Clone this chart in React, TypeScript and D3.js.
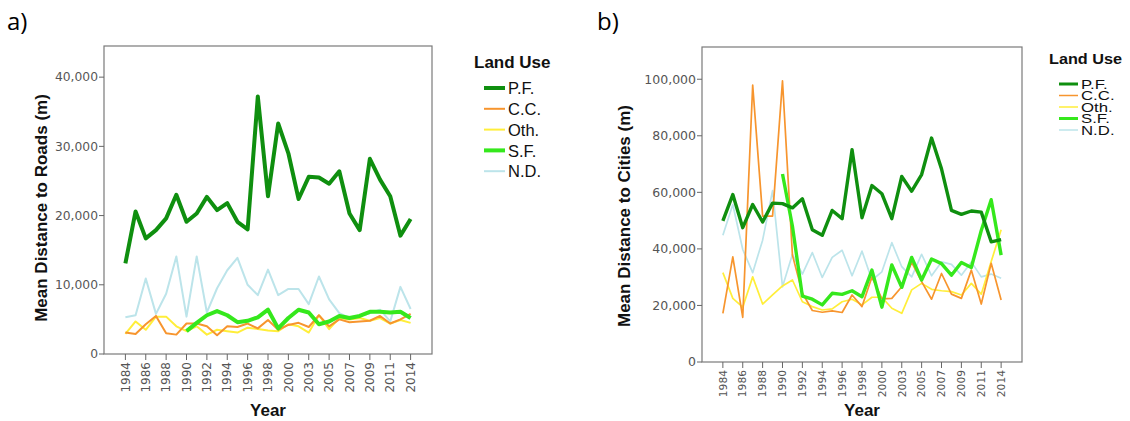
import React from "react";
import * as d3 from "d3";

// categories (survey years; 2001 and 2012 absent)
const years = [1984, 1985, 1986, 1987, 1988, 1989, 1990, 1991, 1992, 1993, 1994, 1995, 1996, 1997, 1998, 1999, 2000,
  2002, 2003, 2004, 2005, 2006, 2007, 2008, 2009, 2010, 2011, 2013, 2014];
const landUse = ["P.F.", "C.C.", "Oth.", "S.F.", "N.D."];

// a) mean distance to roads (m)
const roadsPF = [13100, 20600, 16700, 17900, 19600, 23000, 19100, 20300, 22700, 20800, 21800, 19100, 18000, 37200, 22800,
  33300, 29000, 22400, 25600, 25500, 24600, 26400, 20300, 17900, 28200, 25200, 22800, 17100, 19500];
const roadsCC = [3100, 2900, 4300, 5500, 3000, 2800, 4400, 4400, 4000, 2700, 4000, 3900, 4400, 3700, 4900, 3500, 4200,
  4500, 3900, 5600, 4000, 5000, 4600, 4700, 4800, 5500, 4400, 5000, 5800];
const roadsOth = [2900, 4700, 3500, 5400, 5400, 4000, 3300, 4000, 2800, 3500, 3300, 3100, 3800, 3600, 3400, 3300, 4300,
  4000, 3100, 5600, 3600, 5200, 5000, 5200, 4800, 5200, 4400, 4900, 4500];
const roadsSF = [null, null, null, null, null, null, 3300, 4500, 5600, 6200, 5600, 4600, 4800, 5300, 6400, 3700, 5200,
  6400, 6000, 4300, 4700, 5500, 5200, 5500, 6100, 6100, 6000, 6100, 5200];
const roadsND = [5300, 5600, 10900, 5800, 8700, 14100, 5400, 14100, 6000, 9500, 12100, 13900, 10000, 8500, 12200, 8500,
  9400, 9400, 7200, 11200, 7900, 5900, 5200, 5500, 5900, 6400, 4700, 9700, 6500];
const roadsTicks = [0, 10000, 20000, 30000, 40000];

// b) mean distance to cities (m)
const citiesPF = [49900, 59200, 47500, 55700, 49500, 56200, 56000, 54500, 57700, 46800, 44800, 53600, 50700, 75100, 51000,
  62400, 59500, 50700, 65600, 60400, 66300, 79200, 68300, 53600, 52200, 53400, 53000, 42500, 43300];
const citiesCC = [17200, 37200, 15800, 97900, 51600, 51600, 99400, 37800, 24400, 18200, 17600, 18100, 17500, 23700, 19600,
  30100, 22300, 22500, 26600, 35200, 28400, 22200, 31300, 24000, 22500, 32500, 20500, 34900, 21900];
const citiesOth = [31600, 22500, 19400, 30100, 20500, 23700, 26900, 29000, 21300, 19600, 18400, 18800, 21300, 22200, 20200,
  22900, 22900, 19000, 17200, 25500, 27800, 25700, 25200, 24900, 23700, 27800, 24000, 35500, 46800];
const citiesSF = [null, null, null, null, null, null, 66500, 48000, 23300, 22200, 20200, 24300, 23900, 25200, 23100, 32500,
  19400, 34300, 26400, 37000, 29000, 36400, 34800, 30700, 35200, 33400, 46500, 57400, 37800];
const citiesND = [44800, 55700, 39800, 31600, 43100, 60600, 26600, 38100, 31100, 38700, 29900, 37000, 39500, 30500, 39200,
  29000, 31900, 42200, 33700, 30100, 38100, 30500, 35400, 34500, 30700, 35400, 30100, 31100, 29600];
const citiesTicks = [0, 20000, 40000, 60000, 80000, 100000];

const colors: Record<string, string> = {
  "P.F.": "#0f8f0f",
  "C.C.": "#f7952e",
  "Oth.": "#ffee3a",
  "S.F.": "#35e81c",
  "N.D.": "#bce4ea",
};
const drawOrder = ["N.D.", "Oth.", "C.C.", "S.F.", "P.F."];
const thick = (k: string) => k === "P.F." || k === "S.F.";

type PanelProps = {
  series: Record<string, (number | null)[]>;
  ticks: number[];
  yMax: number;
  box: { left: number; right: number; top: number; bottom: number };
  yTitle: string;
  titleX: number;
  titleY: number;
  tickFont: number;
  xTickFont: number;
  wide: number;
  thin: number;
};

function Panel(p: PanelProps) {
  const { box } = p;
  const x = d3.scalePoint<number>().domain(years).range([box.left, box.right]).padding(2.1);
  const y = d3.scaleLinear().domain([0, p.yMax]).range([box.bottom, box.top]);
  const line = d3.line<number | null>()
    .defined(d => d !== null)
    .x((_, i) => x(years[i]) as number)
    .y(d => y(d as number));
  const fmt = d3.format(",");
  const tickFont = "DejaVu Sans, sans-serif";
  return (
    <g>
      <rect x={box.left} y={box.top} width={box.right - box.left} height={box.bottom - box.top}
        fill="none" stroke="#7a7a7a" strokeWidth={1.2} />
      {p.ticks.map(t => (
        <g key={t}>
          <line x1={box.left - 5} x2={box.left} y1={y(t)} y2={y(t)} stroke="#666" />
          <text x={box.left - 6} y={y(t)} dy="0.35em" textAnchor="end" fontFamily={tickFont}
            fontSize={p.tickFont} fill="#555">{fmt(t)}</text>
        </g>
      ))}
      {years.map((yr, i) => i % 2 === 0 ? (
        <g key={yr}>
          <line x1={x(yr)} x2={x(yr)} y1={box.bottom} y2={box.bottom + 6} stroke="#666" />
          <text transform={`translate(${x(yr)},${box.bottom + 8}) rotate(-90)`} dy="0.35em" textAnchor="end"
            fontFamily={tickFont} fontSize={p.xTickFont} fill="#555">{yr}</text>
        </g>
      ) : null)}
      {drawOrder.map(k => (
        <path key={k} d={line(p.series[k]) || ""} fill="none" stroke={colors[k]}
          strokeWidth={thick(k) ? p.wide : p.thin} strokeLinejoin="round" />
      ))}
      <text transform={`translate(${p.titleX},${p.titleY}) rotate(-90)`} textAnchor="middle"
        fontFamily="Liberation Sans, Arial, sans-serif" fontWeight="bold" fontSize={17} fill="#111">{p.yTitle}</text>
      <text x={(box.left + box.right) / 2} y={416} textAnchor="middle"
        fontFamily="Liberation Sans, Arial, sans-serif" fontWeight="bold" fontSize={17} fill="#111">Year</text>
    </g>
  );
}

function Legend(props: { x: number; y: number; gap: number; font: number; titleFont: number; sx: number; tsx: number; wide: number; thin: number; len: number }) {
  const { x, y, gap, font, titleFont, sx, len } = props;
  const ff = "Liberation Sans, Arial, sans-serif";
  return (
    <g>
      <text transform={`translate(${x - 10},${y - 20}) scale(${props.tsx},1)`} fontFamily={ff} fontWeight="bold"
        fontSize={titleFont} fill="#111">Land Use</text>
      {landUse.map((k, i) => (
        <g key={k}>
          <line x1={x} x2={x + len} y1={y + i * gap} y2={y + i * gap} stroke={colors[k]}
            strokeWidth={thick(k) ? props.wide : props.thin} />
          <text transform={`translate(${x + len + 3},${y + i * gap}) scale(${sx},1)`} dy="0.38em"
            fontFamily={ff} fontSize={font} fill="#111">{k}</text>
        </g>
      ))}
    </g>
  );
}

export default function App() {
  return (
    <svg width={1130} height={421} style={{ position: "absolute", left: 0, top: 0, background: "#fff" }}>
      <text x={7} y={30} fontFamily="Open Sans, sans-serif" fontSize={24} fill="#000">a)</text>
      <text x={597} y={30} fontFamily="Open Sans, sans-serif" fontSize={24} fill="#000">b)</text>
      <Panel
        series={{ "P.F.": roadsPF, "C.C.": roadsCC, "Oth.": roadsOth, "S.F.": roadsSF, "N.D.": roadsND }}
        ticks={roadsTicks} yMax={44500}
        box={{ left: 104, right: 432, top: 46, bottom: 354 }}
        yTitle="Mean Distance to Roads (m)" titleX={47} titleY={208}
        tickFont={12.3} xTickFont={12} wide={4} thin={2}
      />
      <Panel
        series={{ "P.F.": citiesPF, "C.C.": citiesCC, "Oth.": citiesOth, "S.F.": citiesSF, "N.D.": citiesND }}
        ticks={citiesTicks} yMax={111400}
        box={{ left: 702, right: 1022, top: 47, bottom: 362 }}
        yTitle="Mean Distance to Cities (m)" titleX={630} titleY={216}
        tickFont={12.5} xTickFont={10.7} wide={3.4} thin={1.7}
      />
      <Legend x={484} y={88} gap={20.8} font={16.5} titleFont={17} sx={1} tsx={1} wide={4} thin={2} len={21} />
      <Legend x={1059} y={84} gap={11.5} font={12} titleFont={14.5} sx={1.4} tsx={1.12} wide={3} thin={1.5} len={19} />
    </svg>
  );
}
